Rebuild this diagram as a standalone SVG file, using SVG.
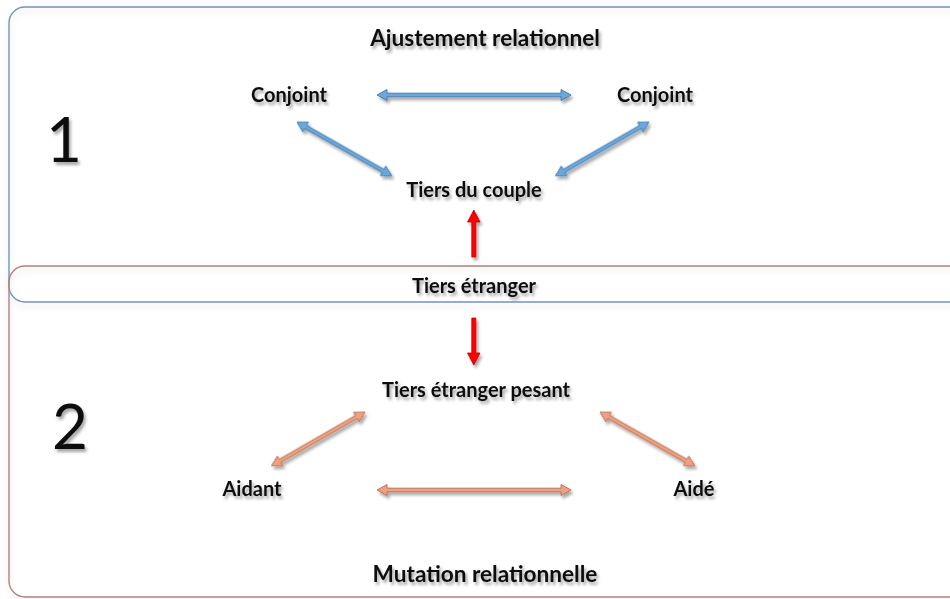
<svg xmlns="http://www.w3.org/2000/svg" width="950" height="599" viewBox="0 0 950 599">
  <defs>
    <filter id="sh" x="-20%" y="-40%" width="140%" height="180%">
      <feDropShadow dx="2" dy="3" stdDeviation="1.6" flood-color="#000" flood-opacity="0.35"/>
    </filter>
    <filter id="bsh" x="-5%" y="-5%" width="110%" height="110%">
      <feDropShadow dx="0" dy="4" stdDeviation="3" flood-color="#000" flood-opacity="0.12"/>
    </filter>
    <style>
      .lbl { font-family: Lato, "Open Sans", "Liberation Sans", sans-serif; font-weight: bold; font-size: 20px; fill: #111; text-anchor: middle; }
      .ttl { font-size: 22.6px; }
      .num { font-family: Lato, "Open Sans", "Liberation Sans", sans-serif; font-weight: normal; font-size: 62px; fill: #111; text-anchor: middle; }
      .blue { fill: #6aa7dc; stroke: #3f78ad; stroke-width: 0.9; stroke-linejoin: round; }
      .orange { fill: #f0a07f; stroke: #b56e50; stroke-width: 0.9; stroke-linejoin: round; }
      .red { fill: #ff0000; stroke: #c00000; stroke-width: 0.8; stroke-linejoin: round; }
    </style>
  </defs>
  <rect width="950" height="599" fill="#ffffff"/>
  <g id="frames" filter="url(#bsh)">
    <rect id="frame-top" x="9" y="7" width="970" height="295" rx="16" ry="16" fill="none" stroke="#6f95bd" stroke-width="1.4"/>
    <rect id="frame-bottom" x="9" y="266" width="970" height="331" rx="16" ry="16" fill="none" stroke="#b5807b" stroke-width="1.4"/>
  </g>
  <g id="connectors" filter="url(#sh)">
    <polygon class="blue" transform="translate(377,95)" points="0,0 10,-5.5 10,-1.8 184,-1.8 184,-5.5 194,0 184,5.5 184,1.8 10,1.8 10,5.5"/>
    <polygon class="blue" transform="translate(297,122) rotate(29.6)" points="0,0 10,-5.5 10,-1.8 99,-1.8 99,-5.5 109,0 99,5.5 99,1.8 10,1.8 10,5.5"/>
    <polygon class="blue" transform="translate(649,122) rotate(150.1)" points="0,0 10,-5.5 10,-1.8 98,-1.8 98,-5.5 108,0 98,5.5 98,1.8 10,1.8 10,5.5"/>
    <polygon class="red" points="471.8,257 471.8,222 467.5,222 473.8,210 480,222 475.8,222 475.8,257"/>
    <polygon class="red" points="471.8,318 471.8,353 467.5,353 473.8,365 480,353 475.8,353 475.8,318"/>
    <polygon class="orange" transform="translate(365,412) rotate(150.1)" points="0,0 10,-5.5 10,-1.8 98,-1.8 98,-5.5 108,0 98,5.5 98,1.8 10,1.8 10,5.5"/>
    <polygon class="orange" transform="translate(600,412) rotate(29.6)" points="0,0 10,-5.5 10,-1.8 99,-1.8 99,-5.5 109,0 99,5.5 99,1.8 10,1.8 10,5.5"/>
    <polygon class="orange" transform="translate(377,490)" points="0,0 10,-5.5 10,-1.8 184,-1.8 184,-5.5 194,0 184,5.5 184,1.8 10,1.8 10,5.5"/>
  </g>
  <g id="titre-ajustement" filter="url(#sh)"><text class="lbl ttl" x="485" y="46">Ajustement relationnel</text></g>
  <g id="num-1" filter="url(#sh)"><text class="num" x="64" y="162">1</text></g>
  <g id="conjoint-gauche" filter="url(#sh)"><text class="lbl" x="289" y="102">Conjoint</text></g>
  <g id="conjoint-droite" filter="url(#sh)"><text class="lbl" x="655" y="102">Conjoint</text></g>
  <g id="tiers-du-couple" filter="url(#sh)"><text class="lbl" x="474" y="197">Tiers du couple</text></g>
  <g id="tiers-etranger" filter="url(#sh)"><text class="lbl" x="474" y="293">Tiers étranger</text></g>
  <g id="tiers-etranger-pesant" filter="url(#sh)"><text class="lbl" x="476" y="397">Tiers étranger pesant</text></g>
  <g id="num-2" filter="url(#sh)"><text class="num" x="70" y="449">2</text></g>
  <g id="aidant" filter="url(#sh)"><text class="lbl" x="252" y="496">Aidant</text></g>
  <g id="aide" filter="url(#sh)"><text class="lbl" x="694" y="496">Aidé</text></g>
  <g id="titre-mutation" filter="url(#sh)"><text class="lbl ttl" x="485" y="582">Mutation relationnelle</text></g>
</svg>
